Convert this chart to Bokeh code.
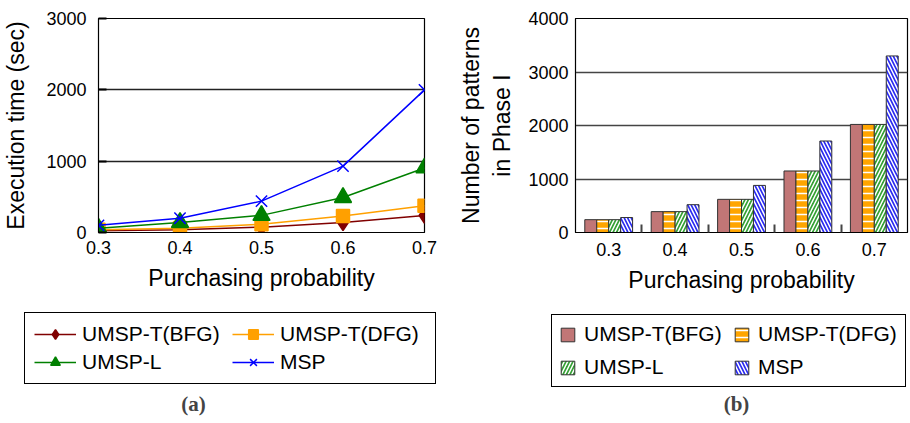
from bokeh.plotting import figure
from bokeh.layouts import row, column
from bokeh.models import Legend, LegendItem, Label, FixedTicker, Range1d
from bokeh.embed import file_html
from bokeh.resources import INLINE

# ---------------- data ----------------
prob = [0.3, 0.4, 0.5, 0.6, 0.7]
prob_labels = ["0.3", "0.4", "0.5", "0.6", "0.7"]
series_names = ["UMSP-T(BFG)", "UMSP-T(DFG)", "UMSP-L", "MSP"]

# (a) execution time (sec)
time_bfg = [25, 40, 75, 140, 240]
time_dfg = [40, 60, 115, 230, 375]
time_l = [60, 140, 240, 490, 905]
time_msp = [100, 200, 440, 930, 2000]

# (b) number of patterns in Phase I
pat_bfg = [240, 390, 620, 1150, 2020]
pat_dfg = [240, 390, 620, 1150, 2020]
pat_l = [240, 390, 620, 1150, 2020]
pat_msp = [280, 520, 880, 1710, 3300]

y_ticks_a = [0, 1000, 2000, 3000]
y_ticks_b = [0, 1000, 2000, 3000, 4000]

FONT = "Liberation Sans"
TOP_H = 300
BOT_H = 123
W = 455

def style_axes(p):
    for ax in (p.xaxis[0], p.yaxis[0]):
        ax.major_label_text_font = FONT
        ax.major_label_text_font_size = "18px"
        ax.major_label_text_color = "black"
        ax.axis_label_text_font = FONT
        ax.axis_label_text_font_size = "23px"
        ax.axis_label_text_font_style = "normal"
        ax.axis_label_text_color = "black"
        ax.axis_line_color = "black"
        ax.minor_tick_line_color = None
    p.outline_line_color = "black"
    p.outline_line_width = 1.2
    p.xgrid.grid_line_color = None

def legend_strip(width, height):
    # a strip that only holds the legend and caption; its ranges keep the
    # series (re-plotted there only to feed the legend) far out of view
    q = figure(width=width, height=height, x_range=Range1d(-11, -10), y_range=Range1d(19000, 20000),
               output_backend="svg", toolbar_location=None,
               min_border_left=0, min_border_right=0, min_border_top=0, min_border_bottom=0)
    q.axis.visible = False
    q.grid.visible = False
    q.outline_line_color = None
    return q

def make_legend(items, loc, glyph_w, glyph_h, standoff, label_w, spacing, padding):
    return Legend(items=items, ncols=2, orientation="horizontal", location=loc,
                  label_text_font=FONT, label_text_font_size="21px", label_text_color="black",
                  glyph_width=glyph_w, glyph_height=glyph_h, label_standoff=standoff,
                  label_width=label_w, spacing=spacing, padding=padding, margin=0,
                  border_line_color="black", border_line_alpha=1, border_line_width=1.2,
                  background_fill_color="white", background_fill_alpha=1)

# ---------------- (a) ----------------
p1 = figure(width=W, height=TOP_H, x_range=Range1d(0.3, 0.7), y_range=Range1d(0, 3000),
            output_backend="svg", toolbar_location=None,
            min_border_left=97, min_border_right=31, min_border_top=16, min_border_bottom=TOP_H - 232)
style_axes(p1)
p1.xaxis.ticker = FixedTicker(ticks=prob)
p1.xaxis.major_label_overrides = {v: s for v, s in zip(prob, prob_labels)}
p1.yaxis.ticker = FixedTicker(ticks=y_ticks_a)
p1.xaxis.axis_label = "Purchasing probability"
p1.yaxis.axis_label = "Execution time (sec)"
p1.xaxis.major_tick_in = 0
p1.xaxis.major_tick_out = 0
p1.yaxis.major_tick_in = 8
p1.yaxis.major_tick_out = 0
p1.yaxis.major_tick_line_width = 2
p1.xaxis.major_label_standoff = 8
p1.yaxis.major_label_standoff = 12
p1.xaxis.axis_label_standoff = 8
p1.yaxis.axis_label_standoff = 14
p1.ygrid.grid_line_color = "#222222"
p1.ygrid.grid_line_width = 1.3

line_specs = [
    (time_bfg, "#800000", "diamond", 16),
    (time_dfg, "#FFA000", "square", 13),
    (time_l, "#008000", "triangle", 17),
    (time_msp, "#0000FF", "x", 16),
]
q1 = legend_strip(W, BOT_H)
items_a = []
for name, (vals, col, mk, sz) in zip(series_names, line_specs):
    p1.line(prob, vals, line_color=col, line_width=1.5)
    p1.scatter(prob, vals, marker=mk, size=sz, fill_color=col, line_color=col, line_width=1.5)
    ql = q1.line(prob, vals, line_color=col, line_width=1.5)
    qs = q1.scatter(prob, vals, marker=mk, size=sz, fill_color=col, line_color=col, line_width=1.5)
    items_a.append(LegendItem(label=name, renderers=[ql, qs]))

q1.add_layout(make_legend(items_a, (24, 39), 42, 24, 6, 146, 4, 9))
q1.add_layout(Label(x=193, y=8, x_units="screen", y_units="screen", text="(a)", text_align="center",
                    text_font="Liberation Serif", text_font_style="bold", text_font_size="21px"))

# ---------------- (b) ----------------
p2 = figure(width=W, height=TOP_H, x_range=Range1d(0.25, 0.75), y_range=Range1d(0, 4000),
            output_backend="svg", toolbar_location=None,
            min_border_left=114, min_border_right=3, min_border_top=18, min_border_bottom=TOP_H - 234)
style_axes(p2)
bounds = [(a + b) / 2 for a, b in zip(prob, prob[1:])]
p2.xaxis.ticker = FixedTicker(ticks=prob, minor_ticks=bounds)
p2.xaxis.major_label_overrides = {v: s for v, s in zip(prob, prob_labels)}
p2.xaxis.major_tick_in = 0
p2.xaxis.major_tick_out = 0
p2.xaxis.minor_tick_line_color = "#444444"
p2.xaxis.minor_tick_line_width = 2
p2.xaxis.minor_tick_in = 8
p2.xaxis.minor_tick_out = 0
p2.yaxis.ticker = FixedTicker(ticks=y_ticks_b)
p2.yaxis.major_tick_in = 0
p2.yaxis.major_tick_out = 0
p2.xaxis.axis_label = "Purchasing probability"
p2.yaxis.axis_label = "Number of patterns\nin Phase I"
p2.xaxis.major_label_standoff = 10
p2.yaxis.major_label_standoff = 7
p2.xaxis.axis_label_standoff = 8
p2.yaxis.axis_label_standoff = 10
p2.ygrid.grid_line_color = "#444444"
p2.ygrid.grid_line_width = 1.5

bw = 0.018
offsets = [-1.5 * bw, -0.5 * bw, 0.5 * bw, 1.5 * bw]
bar_specs = [
    (pat_bfg, "#C17676", None),
    (pat_dfg, "#FFA500", "horizontal_line"),
    (pat_l, "#33A033", "right_diagonal_line"),
    (pat_msp, "#2828F0", "left_diagonal_line"),
]
q2 = legend_strip(W, BOT_H)
items_b = []
for name, off, (vals, col, hp) in zip(series_names, offsets, bar_specs):
    kw = {}
    if hp:
        kw = dict(hatch_pattern=hp, hatch_color="white", hatch_weight=1.5, hatch_scale=7)
    xs = [c + off for c in prob]
    p2.vbar(x=xs, top=vals, width=bw, fill_color=col, line_color="#333333", line_width=1, **kw)
    qr = q2.vbar(x=xs, top=vals, width=bw, fill_color=col, line_color="#333333", line_width=1, **kw)
    items_b.append(LegendItem(label=name, renderers=[qr]))

q2.add_layout(make_legend(items_b, (96, 36), 17, 17, 8, 140, 9, 7))
q2.add_layout(Label(x=281, y=8, x_units="screen", y_units="screen", text="(b)", text_align="center",
                    text_font="Liberation Serif", text_font_style="bold", text_font_size="21px"))

layout = column(row(p1, p2), row(q1, q2))
open("out.html", "w").write(file_html(layout, INLINE))
